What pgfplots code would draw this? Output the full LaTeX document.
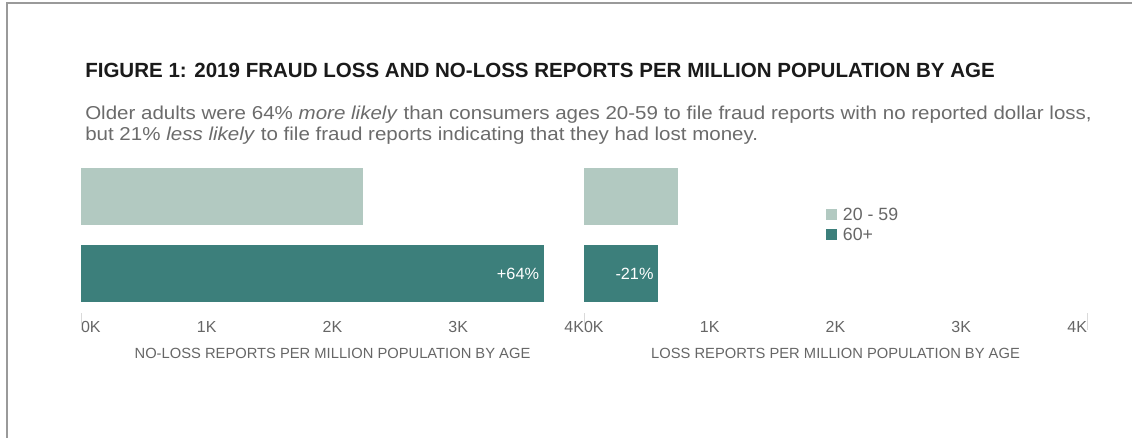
\documentclass[border=0pt]{standalone}
\usepackage{fontspec}
\setmainfont{Liberation Sans}
\newfontfamily\subfont[FakeStretch=1.1]{Liberation Sans}
\usepackage{pgfplots}
\pgfplotsset{compat=1.18}

\definecolor{young}{HTML}{B2C9C1}
\definecolor{old}{HTML}{3C7F7B}
\definecolor{frame}{HTML}{9A9A9A}
\definecolor{titlecol}{HTML}{1A1A1A}
\definecolor{subcol}{HTML}{6B6B6B}
\definecolor{tickcol}{HTML}{666666}
\definecolor{rulecol}{HTML}{DADADA}

\def\u{0.75pt}

\pgfplotsset{
  panel/.style={
    scale only axis, width=377.25pt, height=108.75pt,
    anchor=south west, clip=false,
    xmin=0, xmax=4000, ymin=-0.513, ymax=1.370,
    hide y axis, axis line style={draw=none}, tick style={draw=none},
    xbar, bar width=42.75pt, bar shift=0pt,
    xtick={0,1000,2000,3000,4000},
    xticklabels={\makebox[0pt][l]{0K},1K,2K,3K,\makebox[0pt][r]{4K}},
    xticklabel style={font=\fontsize{12}{14}\selectfont, text=tickcol,
      inner sep=0pt, anchor=north, yshift=-6pt},
    xlabel style={at={(axis description cs:0.5,0)}, anchor=north,
      inner sep=0pt, yshift=-26pt, font=\fontsize{11.05}{13}\selectfont, text=tickcol},
    nodes near coords style={anchor=east, text=white, xshift=0pt,
      font=\fontsize{12.2}{14}\selectfont},
  }
}

\begin{document}
\begin{tikzpicture}
\path[use as bounding box] (0,0) rectangle (1132*\u,-438*\u);
\draw[color=frame, line width=1.5pt] (7*\u,-440*\u) -- (7*\u,-3*\u) -- (1134*\u,-3*\u);

\node[anchor=base west, inner sep=0pt, text=titlecol,
  font=\fontsize{15.4}{18}\selectfont\bfseries] at (85*\u,-78*\u)
  {FIGURE 1: 2019 FRAUD LOSS AND NO-LOSS REPORTS PER MILLION POPULATION BY AGE};
\node[anchor=base west, inner sep=0pt, text=subcol,
  font=\fontsize{14}{16}\subfont] at (85*\u,-120*\u)
  {Older adults were 64\% \textit{more likely} than consumers ages 20-59 to file fraud reports with no reported dollar loss,};
\node[anchor=base west, inner sep=0pt, text=subcol,
  font=\fontsize{14}{16}\subfont] at (85*\u,-141*\u)
  {but 21\% \textit{less likely} to file fraud reports indicating that they had lost money.};

% no-loss reports
\begin{axis}[panel, at={(81*\u,-313*\u)},
  xlabel={NO-LOSS REPORTS PER MILLION POPULATION BY AGE}]
\addplot[fill=young, draw=none] coordinates {(2240,1)};
\addplot[fill=old, draw=none, nodes near coords={+64\%}] coordinates {(3680,0)};
\draw[rulecol] (rel axis cs:0,0) -- ++(0,-42.75pt);
\end{axis}

% loss reports
\begin{axis}[panel, at={(584*\u,-313*\u)},
  xlabel={LOSS REPORTS PER MILLION POPULATION BY AGE},
  legend style={at={(0.4811,0.745)}, anchor=north west, draw=none, fill=none,
    inner sep=0pt, row sep=0pt, font=\fontsize{13.3}{15}\selectfont,
    text=tickcol, cells={anchor=west}},
  legend image code/.code={\fill[#1] (0pt,-4pt) rectangle (8.25pt,4.25pt); \path (10.5pt,0pt);}]
\addplot[fill=young, draw=none] coordinates {(750,1)};
\addlegendentry{20 - 59}
\addplot[fill=old, draw=none, nodes near coords={-21\%}] coordinates {(590,0)};
\addlegendentry{60+}
\draw[rulecol] (rel axis cs:0,0) -- ++(0,-42.75pt);
\draw[rulecol] (rel axis cs:1,0) -- ++(0,-42.75pt);
\end{axis}
\end{tikzpicture}
\end{document}
